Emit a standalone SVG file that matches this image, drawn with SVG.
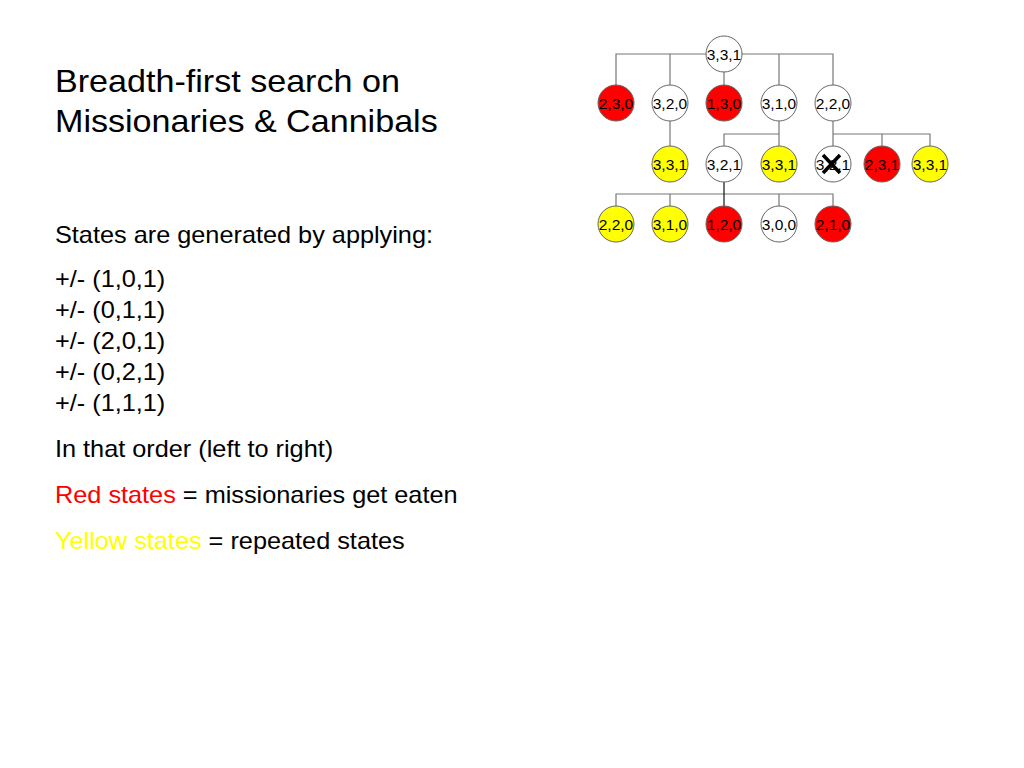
<svg xmlns="http://www.w3.org/2000/svg" width="1024" height="768" viewBox="0 0 1024 768">
<style>
.t{font-family:"Liberation Sans",Arial,sans-serif;fill:#000}
.title{font-size:31px}
.body{font-size:23px}
.n circle{stroke:#666;stroke-width:1}
.n text{font-family:"Liberation Sans",Arial,sans-serif;font-size:15.5px;text-anchor:middle;fill:#000}
.w{fill:#fff}.r{fill:#f00}.y{fill:#ff0}
.c path{fill:none;stroke:#777;stroke-width:1.2}
</style>
<rect width="1024" height="768" fill="#fff"/>
<g id="text" transform="scale(1.1,1)">
<text class="t title" x="50" y="92">Breadth-first search on</text>
<text class="t title" x="50" y="132">Missionaries &amp; Cannibals</text>
<text class="t body" x="50" y="243">States are generated by applying:</text>
<text class="t body" x="50" y="287">+/- (1,0,1)</text>
<text class="t body" x="50" y="318">+/- (0,1,1)</text>
<text class="t body" x="50" y="349">+/- (2,0,1)</text>
<text class="t body" x="50" y="380">+/- (0,2,1)</text>
<text class="t body" x="50" y="411">+/- (1,1,1)</text>
<text class="t body" x="50" y="457">In that order (left to right)</text>
<text class="t body" x="50" y="503"><tspan fill="#f00">Red states</tspan> = missionaries get eaten</text>
<text class="t body" x="50" y="549"><tspan fill="#ff0">Yellow states</tspan> = repeated states</text>
</g>
<g class="c" id="connectors">
<path d="M616,85V54H833V85M670,54V85M724,72V85M779,54V85"/>
<path d="M670,121V146"/>
<path d="M779,121V134H724V146M779,134V146"/>
<path d="M833,121V134H930V146M833,134V146M882,134V146"/>
<path d="M616,206V194H833V206M670,194V206M779,194V206"/>
<path d="M724,182V206" style="stroke:#111"/>
</g>
<g class="n" id="n0"><circle class="w" cx="724" cy="54" r="18"/><text x="724" y="60">3,3,1</text></g>
<g class="n" id="n1"><circle class="r" cx="616" cy="103" r="18"/><text x="616" y="109">2,3,0</text></g>
<g class="n" id="n2"><circle class="w" cx="670" cy="103" r="18"/><text x="670" y="109">3,2,0</text></g>
<g class="n" id="n3"><circle class="r" cx="724" cy="103" r="18"/><text x="724" y="109">1,3,0</text></g>
<g class="n" id="n4"><circle class="w" cx="779" cy="103" r="18"/><text x="779" y="109">3,1,0</text></g>
<g class="n" id="n5"><circle class="w" cx="833" cy="103" r="18"/><text x="833" y="109">2,2,0</text></g>
<g class="n" id="n6"><circle class="y" cx="670" cy="164" r="18"/><text x="670" y="170">3,3,1</text></g>
<g class="n" id="n7"><circle class="w" cx="724" cy="164" r="18"/><text x="724" y="170">3,2,1</text></g>
<g class="n" id="n8"><circle class="y" cx="779" cy="164" r="18"/><text x="779" y="170">3,3,1</text></g>
<g class="n" id="n9"><circle class="w" cx="833" cy="164" r="18"/><text x="833" y="170">3,2,1</text>
<path d="M823,155L840,173M840,155L823,173" stroke="#000" stroke-width="3.5" fill="none"/></g>
<g class="n" id="n10"><circle class="r" cx="882" cy="164" r="18"/><text x="882" y="170">2,3,1</text></g>
<g class="n" id="n11"><circle class="y" cx="930" cy="164" r="18"/><text x="930" y="170">3,3,1</text></g>
<g class="n" id="n12"><circle class="y" cx="616" cy="224" r="18"/><text x="616" y="230">2,2,0</text></g>
<g class="n" id="n13"><circle class="y" cx="670" cy="224" r="18"/><text x="670" y="230">3,1,0</text></g>
<g class="n" id="n14"><circle class="r" cx="724" cy="224" r="18"/><text x="724" y="230">1,2,0</text></g>
<g class="n" id="n15"><circle class="w" cx="779" cy="224" r="18"/><text x="779" y="230">3,0,0</text></g>
<g class="n" id="n16"><circle class="r" cx="833" cy="224" r="18"/><text x="833" y="230">2,1,0</text></g>
</svg>
